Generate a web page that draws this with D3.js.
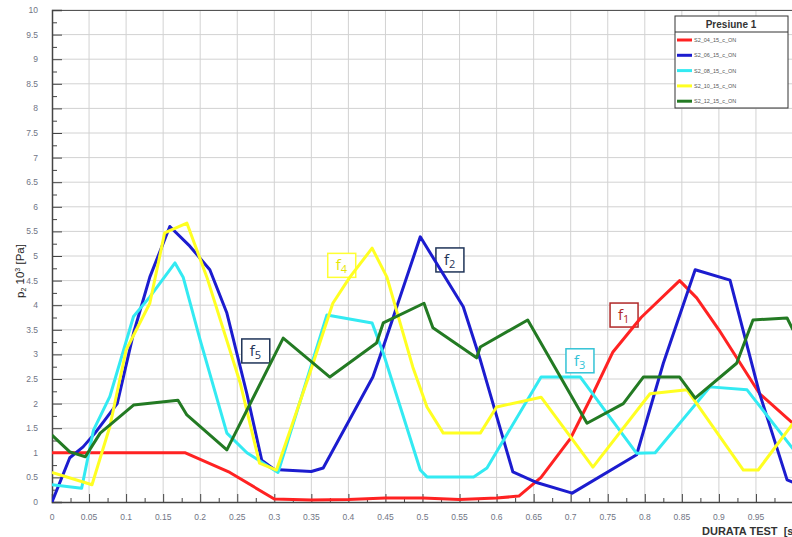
<!DOCTYPE html>
<html><head><meta charset="utf-8">
<script src="https://cdn.jsdelivr.net/npm/d3@7"></script>
<style>body{margin:0;background:#fff}svg{display:block}</style>
</head><body>
<svg id="c" width="792" height="537"></svg>
<script>
const xTicks = [0,0.05,0.1,0.15,0.2,0.25,0.3,0.35,0.4,0.45,0.5,0.55,0.6,0.65,0.7,0.75,0.8,0.85,0.9,0.95];
const yTicks = [0,0.5,1,1.5,2,2.5,3,3.5,4,4.5,5,5.5,6,6.5,7,7.5,8,8.5,9,9.5,10];
const seriesNames = ["S2_04_15_c_ON","S2_06_15_c_ON","S2_08_15_c_ON","S2_10_15_c_ON","S2_12_15_c_ON"];
const seriesColors = ["#ff2222","#1c1ccf","#33eaf2","#ffff22","#237a23"];

const red = [[0,1.0],[0.18,1.0],[0.24,0.6],[0.30,0.06],[0.35,0.04],[0.40,0.05],[0.45,0.08],[0.50,0.08],[0.55,0.05],[0.60,0.08],[0.63,0.12],[0.66,0.5],[0.70,1.3],[0.73,2.2],[0.757,3.05],[0.795,3.75],[0.847,4.5],[0.87,4.15],[0.9,3.5],[0.955,2.2],[1.0,1.6]];
const blue = [[0,0],[0.024,0.9],[0.042,1.12],[0.058,1.4],[0.088,2.0],[0.11,3.43],[0.132,4.57],[0.159,5.6],[0.186,5.2],[0.213,4.72],[0.236,3.84],[0.263,2.2],[0.283,0.85],[0.30,0.66],[0.35,0.62],[0.366,0.69],[0.433,2.54],[0.447,3.15],[0.497,5.39],[0.555,3.97],[0.578,2.89],[0.622,0.61],[0.655,0.39],[0.702,0.18],[0.789,0.96],[0.825,2.82],[0.868,4.72],[0.915,4.51],[0.955,2.2],[0.992,0.45],[1.0,0.4]];
const cyan = [[0,0.35],[0.04,0.28],[0.056,1.46],[0.078,2.14],[0.11,3.77],[0.132,4.17],[0.166,4.86],[0.177,4.57],[0.2,3.29],[0.236,1.40],[0.263,1.0],[0.305,0.6],[0.371,3.8],[0.432,3.64],[0.447,3.03],[0.497,0.65],[0.506,0.51],[0.569,0.51],[0.587,0.69],[0.66,2.54],[0.713,2.54],[0.789,0.99],[0.814,1.0],[0.888,2.34],[0.938,2.28],[1.0,1.08]];
const yellow = [[0,0.6],[0.054,0.35],[0.078,1.53],[0.10,3.09],[0.132,4.04],[0.152,5.47],[0.182,5.67],[0.209,4.57],[0.254,2.42],[0.28,0.79],[0.303,0.65],[0.348,2.62],[0.379,4.04],[0.402,4.57],[0.432,5.16],[0.452,4.57],[0.487,2.74],[0.506,1.93],[0.528,1.40],[0.578,1.40],[0.6,1.93],[0.66,2.13],[0.73,0.71],[0.807,2.2],[0.857,2.28],[0.933,0.65],[0.953,0.65],[1.0,1.6]];
const green = [[0,1.36],[0.024,1.02],[0.045,0.92],[0.065,1.40],[0.11,1.97],[0.17,2.07],[0.182,1.77],[0.236,1.06],[0.312,3.33],[0.375,2.54],[0.438,3.23],[0.447,3.64],[0.502,4.04],[0.514,3.54],[0.573,2.93],[0.578,3.15],[0.642,3.70],[0.722,1.6],[0.771,2.0],[0.798,2.54],[0.847,2.54],[0.868,2.11],[0.924,2.82],[0.946,3.70],[0.992,3.74],[1.0,3.5]];
const seriesData = [red, blue, cyan, yellow, green];

// annotation labels (centre in data units)
const labelSub = ["1","2","3","4","5"];
const labelPos = [[0.772,3.80],[0.537,4.92],[0.7125,2.87],[0.391,4.81],[0.275,3.07]];
const labelStroke = ["#b02828","#1f3458","#33c3d6","#ffff33","#1f3458"];
const labelText = ["#b02828","#1f3458","#33c3d6","#e6e600","#1f3458"];

const svg = d3.select("#c");
const x = d3.scaleLinear().domain([0,1]).range([52,793]);
const y = d3.scaleLinear().domain([0,10]).range([502,10]);

svg.append("defs").append("clipPath").attr("id","pc")
  .append("rect").attr("x",52).attr("y",10).attr("width",740).attr("height",492);

// grid
const grid = svg.append("g");
grid.selectAll("line.v").data(xTicks.slice(1)).join("line")
  .attr("x1",d=>x(d)).attr("x2",d=>x(d)).attr("y1",y(10)).attr("y2",y(0))
  .attr("stroke","#d2d2d2").attr("stroke-width",1);
grid.selectAll("line.h").data(yTicks.slice(1)).join("line")
  .attr("x1",x(0)).attr("x2",792).attr("y1",d=>y(d)).attr("y2",d=>y(d))
  .attr("stroke","#d2d2d2").attr("stroke-width",1);

// top frame
svg.append("line").attr("x1",x(0)).attr("x2",792).attr("y1",y(10)+0.5).attr("y2",y(10)+0.5).attr("stroke","#555").attr("stroke-width",1);

// y axis
const yAxis = svg.append("g").attr("transform",`translate(${x(0)},0)`)
  .call(d3.axisRight(y).tickValues(yTicks).tickSize(10).tickFormat(""));
yAxis.select(".domain").attr("stroke","#444").attr("stroke-width",1.5);
yAxis.selectAll(".tick line").attr("stroke","#444");
const yMinor = svg.append("g").attr("transform",`translate(${x(0)},0)`)
  .call(d3.axisRight(y).tickValues(yTicks.slice(0,-1).map(v=>v+0.25)).tickSize(5).tickFormat(""));
yMinor.select(".domain").remove();
yMinor.selectAll(".tick line").attr("stroke","#444");
svg.append("g").selectAll("text").data(yTicks).join("text")
  .attr("x",38).attr("y",d=>y(d)+3).attr("text-anchor","end")
  .attr("font-family","Liberation Sans, Arial, sans-serif").attr("font-size",8.5)
  .attr("fill","#707585").text(d=>d3.format("~g")(d));

// x axis
const xAxis = svg.append("g").attr("transform",`translate(0,${y(0)})`)
  .call(d3.axisTop(x).tickValues(xTicks).tickSize(8).tickFormat(""));
xAxis.select(".domain").attr("stroke","#444").attr("stroke-width",1.5);
xAxis.selectAll(".tick line").attr("stroke","#444");
const xMinor = svg.append("g").attr("transform",`translate(0,${y(0)})`)
  .call(d3.axisTop(x).tickValues(xTicks.map(v=>v+0.025)).tickSize(4).tickFormat(""));
xMinor.select(".domain").remove();
xMinor.selectAll(".tick line").attr("stroke","#444");
svg.append("g").selectAll("text").data(xTicks).join("text")
  .attr("x",d=>x(d)).attr("y",520).attr("text-anchor","middle")
  .attr("font-family","Liberation Sans, Arial, sans-serif").attr("font-size",8.5)
  .attr("fill","#707585").text(d=>d3.format("~g")(d));

// axis titles
svg.append("text").attr("x",702).attr("y",535)
  .attr("font-family","Liberation Sans, Arial, sans-serif").attr("font-size",11).attr("font-weight","bold")
  .attr("fill","#333").attr("xml:space","preserve").text("DURATA TEST  [s]");
const yt = svg.append("text").attr("transform","translate(24,271) rotate(-90)").attr("text-anchor","middle")
  .attr("font-family","Liberation Sans, Arial, sans-serif").attr("font-size",11.5).attr("fill","#222");
yt.append("tspan").text("p");
yt.append("tspan").attr("font-size",7).attr("dy",2).text("2");
yt.append("tspan").attr("dy",-2).text(" 10");
yt.append("tspan").attr("font-size",7).attr("dy",-4).text("3");
yt.append("tspan").attr("dy",4).text(" [Pa]");

// label boxes
const lab = svg.append("g");
labelPos.forEach((p,i)=>{
  const g = lab.append("g").attr("transform",`translate(${x(p[0])},${y(p[1])})`);
  g.append("rect").attr("x",-14).attr("y",-12).attr("width",28).attr("height",24)
    .attr("fill","#fff").attr("stroke",labelStroke[i]).attr("stroke-width",1.5);
  const t = g.append("text").attr("x",-6).attr("y",5).attr("font-family","Open Sans, sans-serif")
    .attr("font-size",15).attr("fill",labelText[i]);
  t.append("tspan").text("f");
  t.append("tspan").attr("font-size",11).attr("dy",3).text(labelSub[i]);
});

// lines
const line = d3.line().x(d=>x(d[0])).y(d=>y(d[1]));
svg.append("g").attr("clip-path","url(#pc)").selectAll("path").data(seriesData).join("path")
  .attr("d",line).attr("fill","none").attr("stroke",(d,i)=>seriesColors[i])
  .attr("stroke-width",3).attr("stroke-linejoin","round");

// legend
const lg = svg.append("g").attr("transform","translate(675,16)");
lg.append("rect").attr("width",113).attr("height",92).attr("fill","#fff").attr("stroke","#333").attr("stroke-width",1);
lg.append("line").attr("x1",0).attr("x2",113).attr("y1",16).attr("y2",16).attr("stroke","#333");
lg.append("text").attr("x",56).attr("y",12).attr("text-anchor","middle")
  .attr("font-family","Liberation Sans, Arial, sans-serif").attr("font-size",10).attr("font-weight","bold")
  .attr("fill","#333").text("Presiune 1");
seriesNames.forEach((n,i)=>{
  const yy = 24 + i*15.3;
  lg.append("line").attr("x1",2).attr("x2",17).attr("y1",yy).attr("y2",yy)
    .attr("stroke",seriesColors[i]).attr("stroke-width",3);
  lg.append("text").attr("x",19).attr("y",yy+2).attr("font-family","Liberation Sans, Arial, sans-serif")
    .attr("font-size",5.5).attr("fill","#555").text(n);
});
</script>
</body></html>
